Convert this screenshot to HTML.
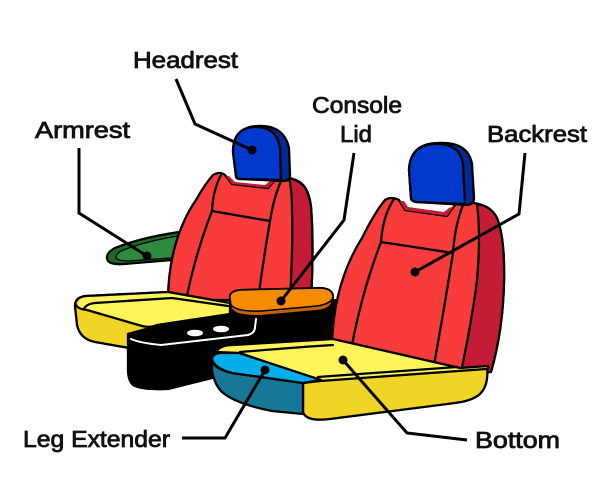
<!DOCTYPE html>
<html><head><meta charset="utf-8">
<style>
html,body{margin:0;padding:0;background:#fff;width:610px;height:500px;overflow:hidden}
svg{display:block}
.t{font-family:"Liberation Sans",Arial,sans-serif;font-size:23px;fill:#111;stroke:#111;stroke-width:0.8px}
</style></head><body>
<svg width="610" height="500" viewBox="0 0 610 500" xmlns="http://www.w3.org/2000/svg">
<rect width="610" height="500" fill="#fff"/>
<g stroke="#000" stroke-width="2.3" stroke-linejoin="round" stroke-linecap="round">
 <!-- armrest -->
 <path d="M186,231 Q142,237 115,248 Q104,254 108,261 Q112,265 124,264 L184,259 Z" fill="#1f6a2b"/>
 <path d="M184,235 Q145,241 121,251 Q114,255 117,259 Q120,261 129,261 L184,257 Z" fill="#2e8b3d" stroke-width="1.3"/>

 <!-- left backrest -->
 <path d="M168,300 C168,262 178,226 196,200 Q205,184 213,175 Q220,171 225,175 L232,184 L268,188 L276,179 Q285,175 298,181 Q309,187 311,207 Q314,245 311,300 Z" fill="#f83c3c"/>
 <path d="M289,178 Q298,180 304,186 Q309,193 311,207 Q314,245 311,300 L290,300 Q293,245 292,210 Q292,190 289,178 Z" fill="#c41c36"/>
 <path d="M226,176 L232,184 L268,188 L275,180 L270,181 L265,185 L235,182 L229,176 Z" fill="#c41c36" stroke="none"/>
 <path d="M221,175 Q213,190 212,211 Q196,252 186,300" fill="none"/>
 <path d="M212,211 L270,221" fill="none"/>
 <path d="M282,179 Q274,196 270,221 Q263,262 258,300" fill="none"/>

 <!-- left headrest -->
 <path d="M236,176 L233,152 Q233,127 258,126 Q284,125 289,148 L290,175 Q290,181 283,181 L241,179 Q236,179 236,176 Z" fill="#002a96"/>
 <path d="M236,176 L233,152 Q233,127 256,127 Q277,127 280,148 L281,180 L241,179 Q236,179 236,176 Z" fill="#0039cc"/>

 <!-- left seat bottom -->
 <path d="M75,306 Q75,297 86,296 L168,292 L230,303 L230,318 L135,336 L135,349 L95,342 Q80,339 77,325 Z" fill="#f0d527"/>
 <path d="M78,304 Q80,297 88,296 L168,292 L230,303 L230,315 L157,325 Q150,328 142,326 L87,310 Q78,308 78,304 Z" fill="#fff55a" stroke="none"/>
 <path d="M75,306 Q75,297 86,296 L168,292 L230,303" fill="none"/>
 <path d="M76,305 Q78,309 87,310 L142,326 Q150,328 157,325 L230,314" fill="none"/>
 <path d="M84,309 Q86,304 95,303 L172,298 L228,306" fill="none"/>

 <!-- console -->
 <path d="M128,334 L150,328 L230,315 L230,302 L345,300 L345,346 L222,348 L211,357 L212,378 L168,389 Q140,390 133,385 Q128,380 128,370 Z" fill="#000"/>
 <path d="M131,339 Q140,343 161,345 L248,335 Q255,333 255,327 L256,319" fill="none" stroke="#fff" stroke-width="2"/>
 <ellipse cx="195" cy="333" rx="8" ry="3.3" fill="#fff" stroke="none"/>
 <ellipse cx="221" cy="329" rx="8" ry="3.3" fill="#fff" stroke="none"/>

 <!-- lid -->
 <path d="M230,298 Q229,291 241,290 L321,288 Q333,289 333,297 L332,303 Q330,310 317,311 L262,316 Q236,317 231,309 Z" fill="#c46300"/>
 <path d="M230,298 Q229,291 241,290 L321,288 Q333,289 333,297 Q331,304 317,306 L262,311 Q237,312 231,305 Z" fill="#f78a00" stroke-width="1.5"/>

 <!-- right backrest -->
 <path d="M332,345 C333,300 345,265 362,238 Q375,212 385,200 Q391,196 399,200 L405,210 L447,216 L455,205 Q462,202 474,203 Q491,206 497,218 Q505,238 504,282 Q503,330 491,372 L460,372 Z" fill="#f83c3c"/>
 <path d="M477,204 Q491,206 497,218 Q505,238 504,282 Q503,330 491,372 L461,372 Q472,320 477,280 Q481,235 477,204 Z" fill="#c41c36"/>
 <path d="M400,201 L405,210 L447,216 L454,206 L449,208 L444,212 L408,207 L404,201 Z" fill="#c41c36" stroke="none"/>
 <path d="M394,199 Q383,215 381,242 Q362,292 352,345" fill="none"/>
 <path d="M381,242 L453,253" fill="none"/>
 <path d="M463,205 Q455,225 453,253 Q444,310 434,365" fill="none"/>

 <!-- right headrest -->
 <path d="M411,198 L409,170 Q410,144 437,143 Q468,141 472,164 L474,198 Q474,205 466,205 L416,202 Q411,201 411,198 Z" fill="#002a96"/>
 <path d="M411,198 L409,170 Q410,145 435,144 Q460,143 463,164 L465,204 L416,202 Q411,201 411,198 Z" fill="#0039cc"/>

 <!-- right seat bottom -->
 <path d="M303,383 L320,381 L487,367 Q489,385 480,394 Q472,401 455,403 L330,419 Q306,422 303,412 Z" fill="#f0d527"/>
 <path d="M216,352 Q220,345 233,345 L333,339 L460,368 L488,366 Q489,369 486,369 L320,381 L240,353 Z" fill="#fff55a"/>
 <path d="M240,352 Q300,347 333,345" fill="none"/>
 <path d="M318,377 L457,367" fill="none"/>

 <!-- leg extender -->
 <path d="M212,360 Q214,369 232,373 L303,383 L303,414 L272,411 Q236,404 222,392 Q214,384 212,370 Z" fill="#167896"/>
 <path d="M212,359 Q213,353 221,353 L239,353 L321,380 L303,383 L232,373 Q214,368 212,359 Z" fill="#00aeea"/>
</g>

<!-- leader lines -->
<g stroke="#000" stroke-width="3" fill="none" stroke-linejoin="miter" stroke-linecap="butt">
 <path d="M176,79 L195,124 L252,150"/>
 <path d="M79,148 L79,213 L147,256"/>
 <path d="M354,153 L344,220 L281,301"/>
 <path d="M525,153 L519,214 L415,272"/>
 <path d="M182,438 L225,438 L265,370"/>
 <path d="M343,360 L407,433 L467,440"/>
</g>
<g fill="#000">
 <circle cx="252" cy="150" r="4.5"/>
 <circle cx="147" cy="256" r="4.5"/>
 <circle cx="281" cy="301" r="4.5"/>
 <circle cx="415" cy="272" r="4.5"/>
 <circle cx="265" cy="370" r="4.5"/>
 <circle cx="343" cy="360" r="4.5"/>
</g>

<!-- labels -->
<text class="t" x="133" y="68" textLength="105" lengthAdjust="spacingAndGlyphs">Headrest</text>
<text class="t" x="35" y="138" textLength="95" lengthAdjust="spacingAndGlyphs">Armrest</text>
<text class="t" x="312" y="113" textLength="90" lengthAdjust="spacingAndGlyphs">Console</text>
<text class="t" x="340" y="142" textLength="32" lengthAdjust="spacingAndGlyphs">Lid</text>
<text class="t" x="487" y="142" textLength="100" lengthAdjust="spacingAndGlyphs">Backrest</text>
<text class="t" x="23" y="447" textLength="147" lengthAdjust="spacingAndGlyphs">Leg Extender</text>
<text class="t" x="475" y="448" textLength="85" lengthAdjust="spacingAndGlyphs">Bottom</text>
</svg>
</body></html>
